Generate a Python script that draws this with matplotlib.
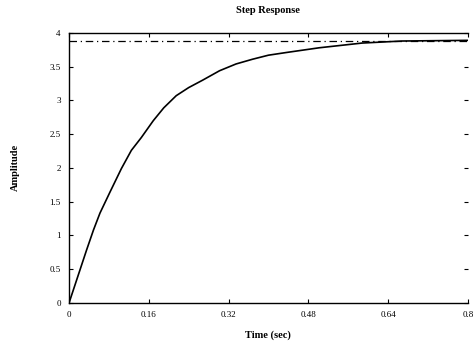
import numpy as np
import matplotlib.pyplot as plt

# 阶跃响应曲线（从图上读取的点）
t = [0.0, 0.035, 0.049, 0.062, 0.082, 0.105, 0.125, 0.145, 0.169, 0.19,
     0.215, 0.24, 0.268, 0.302, 0.335, 0.368, 0.40, 0.436, 0.502, 0.588,
     0.668, 0.8]
y = [0.0, 0.78, 1.08, 1.33, 1.64, 1.99, 2.26, 2.45, 2.70, 2.89,
     3.07, 3.19, 3.30, 3.44, 3.54, 3.61, 3.67, 3.71, 3.78, 3.85,
     3.88, 3.89]

# 稳态值
y_final = 3.88

x_ticks = [0, 0.16, 0.32, 0.48, 0.64, 0.8]
x_labels = ["0", "0.16", "0.32", "0.48", "0.64", "0.8"]
y_ticks = [0, 0.5, 1, 1.5, 2, 2.5, 3, 3.5, 4]
y_labels = ["0", "0.5", "1", "1.5", "2", "2.5", "3", "3.5", "4"]

plt.rcParams['font.family'] = ['Liberation Serif', 'DejaVu Serif']

fig = plt.figure(figsize=(4.73, 3.43), dpi=100)
ax = fig.add_axes([0.146, 0.117, 0.843, 0.787])

ax.plot(t, y, color='black', linewidth=1.2)
ax.plot([0, 0.8], [y_final, y_final], color='black', linewidth=0.9,
        linestyle='-.', dashes=(6, 3, 1, 3))

ax.set_xlim(0, 0.8)
ax.set_ylim(0, 4)
ax.set_xticks(x_ticks)
ax.set_xticklabels(x_labels, fontsize=6.5)
ax.set_yticks(y_ticks)
ax.set_yticklabels(y_labels, fontsize=6.5)
ax.tick_params(direction='in', top=True, right=True, length=3, width=0.8, pad=6)

for side in ['top', 'bottom', 'left']:
    ax.spines[side].set_linewidth(1.0)
ax.spines['right'].set_visible(False)

ax.set_title("Step Response", fontsize=7.5, fontweight='bold', pad=14)
ax.set_xlabel("Time (sec)", fontsize=7.5, fontweight='bold', labelpad=8)
ax.set_ylabel("Amplitude", fontsize=7.5, fontweight='bold', labelpad=21)

plt.savefig("out.png", dpi=100)
